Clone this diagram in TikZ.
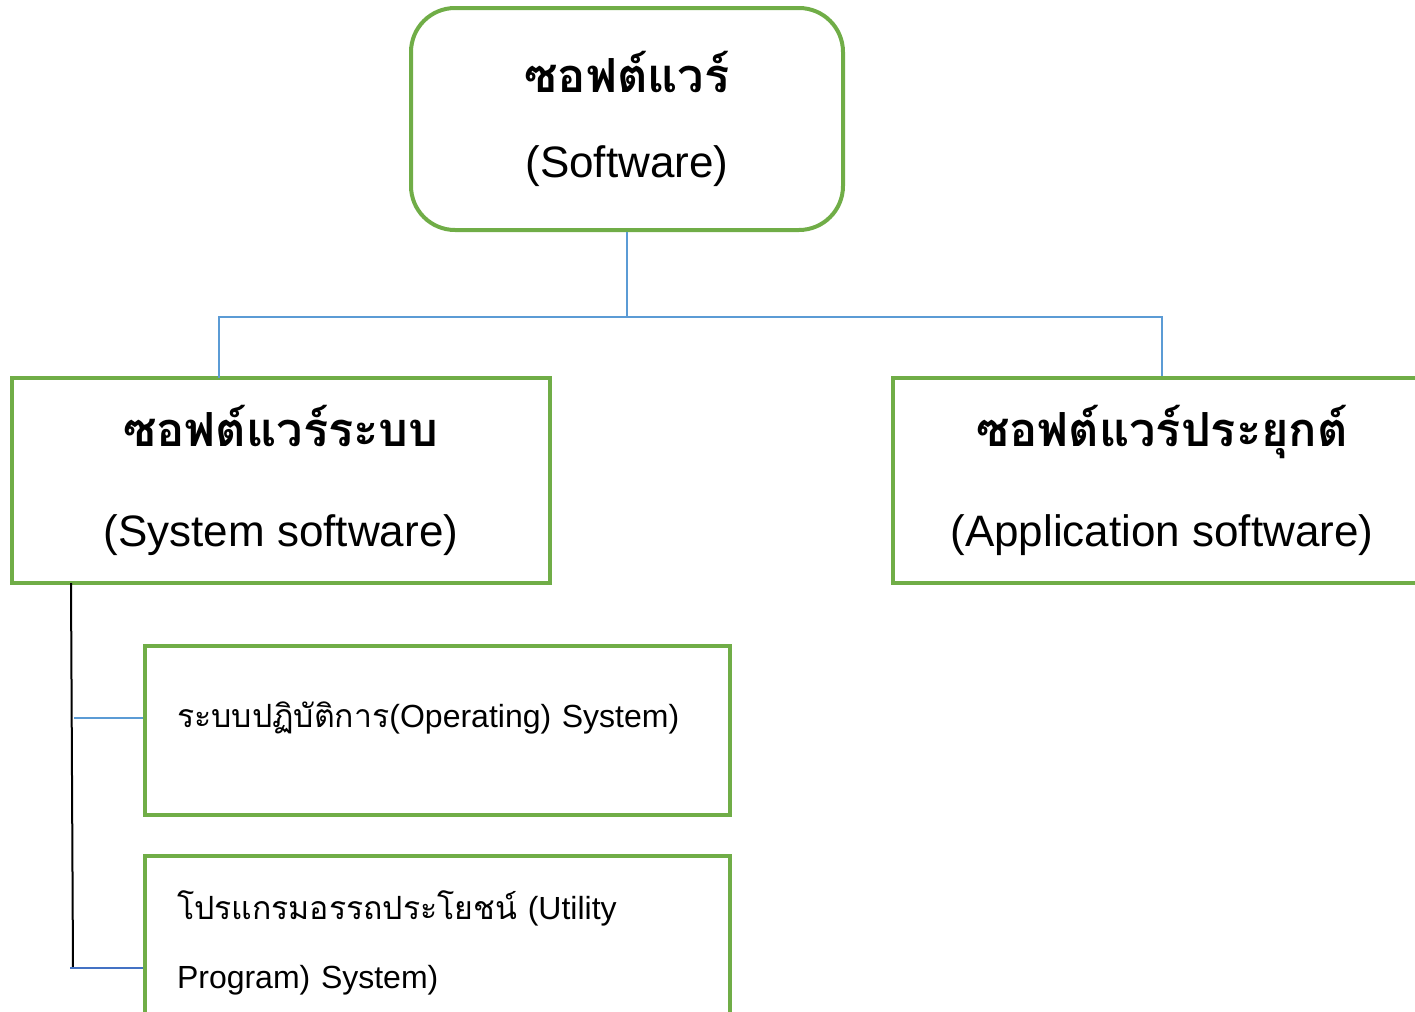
\documentclass[tikz,border=0pt]{standalone}
\usepackage{fontspec}
\setmainfont{Liberation Sans}
\newfontfamily\thai[Script=Thai]{Loma}
\usetikzlibrary{positioning}
\definecolor{boxgreen}{HTML}{70AD47}
\definecolor{linkblue}{HTML}{5B9BD5}
\definecolor{darkblue}{HTML}{4472C4}
\newcommand{\thaihead}[1]{{\thai\bfseries\fontsize{23.5pt}{23.5pt}\selectfont #1}}
\begin{document}
\begin{tikzpicture}[
    x=0.5pt, y=-0.5pt,
    box/.style={rectangle, draw=boxgreen, line width=2pt, align=center, font=\fontsize{22pt}{50pt}\selectfont},
    subbox/.style={rectangle, draw=boxgreen, line width=2pt, align=left, inner xsep=16pt, text width=260.5pt, font=\fontsize{16pt}{34.5pt}\selectfont},
    link/.style={draw=linkblue, line width=1pt}
]
\useasboundingbox (0,0) rectangle (1415,1012);

% Software
\node[box, rounded corners=22pt, minimum width=216pt, minimum height=111pt, font=\fontsize{22pt}{42.5pt}\selectfont] (soft) at (627,119) {\thaihead{ซอฟต์แวร์}\\(Software)};

% System and application software
\node[box, minimum width=269pt, minimum height=102.5pt] (sys) at (281,480.5) {\thaihead{ซอฟต์แวร์ระบบ}\\[0pt](System software)};
\node[box, minimum width=269pt, minimum height=102.5pt] (app) at (1162,480.5) {\thaihead{ซอฟต์แวร์ประยุกต์}\\(Application software)};

% Operating system and utility programs
\node[subbox, minimum height=84.5pt, font=\fontsize{16pt}{16pt}\selectfont] (os) at (437.5,730.5) {{\thai ระบบปฏิบัติการ}(Operating) System)\\\mbox{}};
\node[subbox, minimum height=86.5pt] (util) at (437.5,942.5) {{\thai โปรแกรมอรรถประโยชน์} (Utility\\Program) System)};

% Coordinates
\coordinate (sysin) at (219,378);
\coordinate (trunktop) at (71,583);
\coordinate (trunkbot) at (73,968);
\coordinate (osfrom) at (74,718);
\coordinate (utilfrom) at (70,968);

% Connectors
\draw[link] (soft.south) -- ++(0,85) -| (sysin);
\draw[link] (soft.south) -- ++(0,85) -| (app.north);
\draw[line width=1pt] (trunktop) -- (trunkbot);
\draw[link] (osfrom) -- (osfrom -| os.west);
\draw[draw=darkblue, line width=1.3pt] (utilfrom) -- (utilfrom -| util.west);

\end{tikzpicture}
\end{document}
